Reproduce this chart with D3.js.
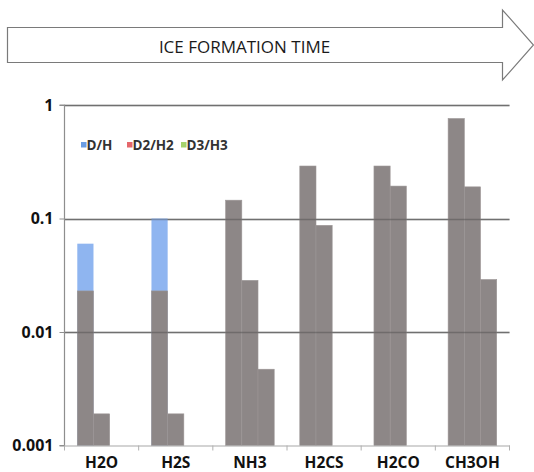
<!DOCTYPE html>
<html>
<head>
<meta charset="utf-8">
<script src="https://cdn.jsdelivr.net/npm/d3@7"></script>
<style>
  html, body { margin: 0; padding: 0; background: #fff; }
  svg { display: block; }
</style>
</head>
<body>
<svg id="chart" width="534" height="472"></svg>
<script>
// ---- data ----
const categories = ["H2O", "H2S", "NH3", "H2CS", "H2CO", "CH3OH"];
// coloured (observed) series
const seriesNames = ["D/H", "D2/H2", "D3/H3"];
const seriesColors = ["#6b9de3", "#e5676b", "#a5d36c"];
const observedDH   = [0.06, 0.1, null, null, null, null];
const observedD2H2 = [null, null, null, null, null, null];
const observedD3H3 = [null, null, null, null, null, null];
// grey bars
const greyDH   = [0.023, 0.023, 0.145, 0.29, 0.29, 0.76];
const greyD2H2 = [0.0019, 0.0019, 0.0285, 0.087, 0.193, 0.19];
const greyD3H3 = [null, null, 0.0047, null, null, 0.029];
const yTicks = [0.001, 0.01, 0.1, 1];
const yTickLabels = ["0.001", "0.01", "0.1", "1"];
const arrowLabel = "ICE FORMATION TIME";

// ---- layout ----
const svg = d3.select("#chart");
const font = "'Open Sans', 'DejaVu Sans', sans-serif";
const plotLeft = 64.5, plotRight = 509.5, plotTop = 105, plotBottom = 445.5;

const x = d3.scaleBand().domain(categories).range([plotLeft, plotRight]).paddingInner(0).paddingOuter(0);
const x1 = d3.scaleBand().domain([0, 1, 2]).range([0, x.bandwidth()]).paddingInner(0).paddingOuter(0.79);
const y = d3.scaleLog().domain([0.001, 1]).range([plotBottom, plotTop]);

// ---- arrow ----
const ax0 = 7.5, ax1 = 502.5, axTip = 533.5, by0 = 27.5, by1 = 62.5, hy0 = 10, hy1 = 80, ym = 45;
svg.append("path")
  .attr("d", `M${ax0},${by0} L${ax1},${by0} L${ax1},${hy0} L${axTip},${ym} L${ax1},${hy1} L${ax1},${by1} L${ax0},${by1} Z`)
  .attr("fill", "#fff").attr("stroke", "#7a7a7a").attr("stroke-width", 1.2);
svg.append("text").attr("x", 244.5).attr("y", 53.3)
  .attr("text-anchor", "middle").attr("font-family", font).attr("font-size", 17)
  .attr("fill", "#1a1a1a").text(arrowLabel);

// ---- gridlines ----
const gridVals = yTicks.filter(v => v > 0.001);
function drawGrid(opacity, color) {
  svg.append("g").selectAll("line").data(gridVals).join("line")
    .attr("x1", plotLeft).attr("x2", plotRight)
    .attr("y1", d => Math.round(y(d)) + 0.5).attr("y2", d => Math.round(y(d)) + 0.5)
    .attr("stroke", color).attr("stroke-width", 1.4).attr("opacity", opacity);
}
drawGrid(1, "#8e8e8e");

// ---- bars ----
const observed = [observedDH, observedD2H2, observedD3H3];
const greys = [greyDH, greyD2H2, greyD3H3];
const barsG = svg.append("g");
observed.forEach((arr, si) => {
  barsG.append("g").selectAll("rect")
    .data(arr.map((v, i) => ({ cat: categories[i], v })).filter(d => d.v != null))
    .join("rect")
    .attr("x", d => x(d.cat) + x1(si))
    .attr("width", x1.bandwidth())
    .attr("y", d => y(d.v))
    .attr("height", d => y(0.001) - y(d.v))
    .attr("fill", si === 0 ? "#8fb5f0" : seriesColors[si]);
});
greys.forEach((arr, si) => {
  barsG.append("g").selectAll("rect")
    .data(arr.map((v, i) => ({ cat: categories[i], v })).filter(d => d.v != null))
    .join("rect")
    .attr("x", d => x(d.cat) + x1(si))
    .attr("width", x1.bandwidth())
    .attr("y", d => y(d.v))
    .attr("height", d => y(0.001) - y(d.v))
    .attr("fill", "#8d8787")
    .attr("stroke", "#9c9696").attr("stroke-width", 0.6);
});
// gridlines faintly visible through bars
drawGrid(0.35, "#3a3a3a");

// ---- y axis ----
const yAxis = d3.axisLeft(y).tickValues(yTicks)
  .tickFormat((d, i) => yTickLabels[i]).tickSize(5).tickPadding(6);
const yg = svg.append("g").attr("transform", `translate(${plotLeft},0)`).call(yAxis);
yg.select(".domain").attr("stroke", "#8e8e8e").attr("stroke-width", 1.2)
  .attr("d", `M-5,${plotBottom}H0V${plotTop}H-5`);
yg.selectAll(".tick line").attr("stroke", "#8e8e8e");
yg.selectAll(".tick text").attr("font-family", font).attr("font-size", 16)
  .attr("font-weight", "bold").attr("fill", "#111");

// ---- x axis ----
const xAxis = d3.axisBottom(x).tickSize(0).tickPadding(11.5);
const xg = svg.append("g").attr("transform", `translate(0,${plotBottom})`).call(xAxis);
xg.select(".domain").attr("stroke", "#a8a8a8").attr("stroke-width", 1.2);
xg.selectAll(".tick text").attr("font-family", font).attr("font-size", 15.5)
  .attr("font-weight", "bold").attr("fill", "#111");
const boundaries = categories.map(c => x(c)).concat([plotRight]);
xg.append("g").selectAll("line").data(boundaries).join("line")
  .attr("x1", d => d).attr("x2", d => d).attr("y1", 0).attr("y2", 5)
  .attr("stroke", "#b0b0b0").attr("stroke-width", 1);

// ---- legend ----
const legendItems = [
  { name: seriesNames[0], color: seriesColors[0], x: 81 },
  { name: seriesNames[1], color: seriesColors[1], x: 127 },
  { name: seriesNames[2], color: seriesColors[2], x: 181 }
];
const lg = svg.append("g");
lg.selectAll("rect").data(legendItems).join("rect")
  .attr("x", d => d.x).attr("y", 142).attr("width", 5.5).attr("height", 5.5)
  .attr("fill", d => d.color);
lg.selectAll("text").data(legendItems).join("text")
  .attr("x", d => d.x + 5.5).attr("y", 149.8)
  .attr("font-family", font).attr("font-size", 13.5).attr("font-weight", "bold")
  .attr("fill", "#333").text(d => d.name);
</script>
</body>
</html>
